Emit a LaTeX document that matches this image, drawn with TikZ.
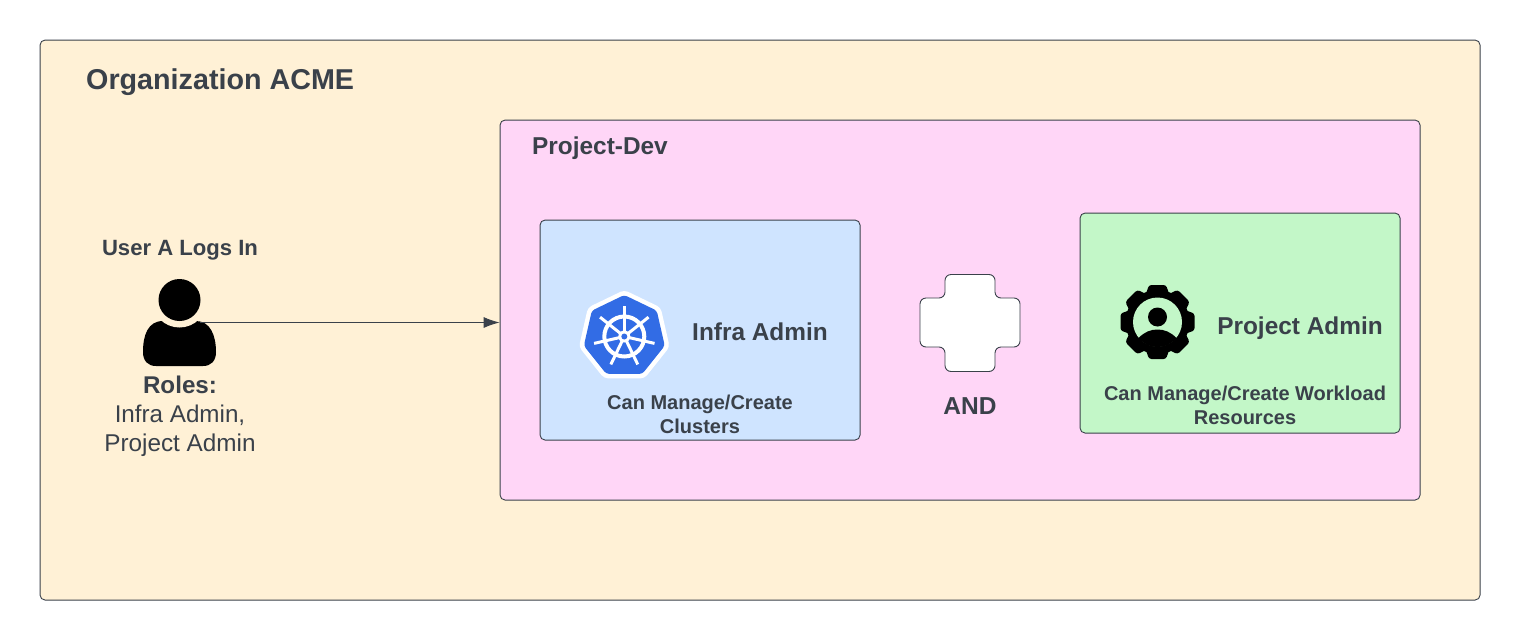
\documentclass[tikz,border=0pt]{standalone}
\usepackage{fontspec}
\setmainfont{Liberation Sans}
\definecolor{ink}{HTML}{3A414A}
\definecolor{orgfill}{HTML}{FFF1D6}
\definecolor{projfill}{HTML}{FFD6F7}
\definecolor{infrafill}{HTML}{CFE4FF}
\definecolor{adminfill}{HTML}{C3F7C8}
\definecolor{kubeblue}{HTML}{326CE5}
\usetikzlibrary{arrows.meta}
\tikzset{
  panel/.style={draw=ink,line width=0.9pt,rounded corners=5pt,anchor=north west,inner sep=0pt},
  label/.style={text=ink,font=\bfseries,align=center,inner sep=0pt},
  plain/.style={text=ink,align=center,inner sep=0pt},
  conn/.style={draw=ink,line width=0.9pt,-{Latex[length=16pt,width=11pt]}},
}
\newcommand{\fs}[1]{\fontsize{#1}{#1}\selectfont}
\begin{document}
\begin{tikzpicture}[x=1pt,y=-1pt]
\useasboundingbox (0,0) rectangle (1520,640);
\fill[white] (0,0) rectangle (1520,640);
\node[panel,fill=orgfill,minimum width=1440pt,minimum height=560pt] (org) at (39.6,39.6) {};
\node[panel,fill=projfill,minimum width=920pt,minimum height=380pt] (proj) at (499.6,119.6) {};
\node[panel,fill=infrafill,minimum width=320pt,minimum height=220pt] (infra) at (539.6,219.6) {};
\node[panel,fill=adminfill,minimum width=320pt,minimum height=220pt] (admin) at (1079.6,212.6) {};

\node[label,anchor=west,font=\bfseries\fs{28.7}] (orgt) at (86,82.5) {Organization ACME};
\node[label,anchor=west,font=\bfseries\fs{24.4}] (projt) at (532,148.5) {Project-Dev};
\node[label,font=\bfseries\fs{22.1}] (usert) at (180,250.5) {User A Logs In};
\node[label,font=\bfseries\fs{24.2}] (rolet) at (180,385) {Roles:};
\node[plain,font=\fs{24.2}] (role1) at (180,415) {Infra Admin,};
\node[plain,font=\fs{24.3}] (role2) at (180,445.5) {Project Admin};
\node[label,font=\bfseries\fs{24.4}] (it) at (760,331.5) {Infra Admin};
\node[label,font=\bfseries\fs{20}] (id1) at (700,404) {Can Manage/Create};
\node[label,font=\bfseries\fs{20}] (id2) at (700,426) {Clusters};
\node[label,font=\bfseries\fs{24.4}] (at) at (1300,328) {Project Admin};
\node[label,font=\bfseries\fs{20}] (ad1) at (1245,395) {Can Manage/Create Workload};
\node[label,font=\bfseries\fs{20}] (ad2) at (1245,417.5) {Resources};
\node[label,font=\bfseries\fs{24.5}] (andt) at (970,406) {AND};

% plus shape
\draw[draw=ink,fill=white,line width=0.9pt,rounded corners=6pt]
  (945,274.5) -- (995,274.5) -- (995,298) -- (1020,298) -- (1020,347) -- (995,347)
  -- (995,371.5) -- (945,371.5) -- (945,347) -- (920,347) -- (920,298) -- (945,298) -- cycle;

% user icon
\fill[black] (143,352) .. controls (143,335) and (148,321) .. (163,321)
  -- (196,321) .. controls (210,321) and (216,335) .. (216,352)
  .. controls (216,361) and (211,366) .. (203,366)
  -- (156,366) .. controls (148,366) and (143,361) .. (143,352) -- cycle;
\fill[orgfill] (179.5,300) circle[radius=27.5];
\fill[black] (179.5,300) circle[radius=21];
\coordinate (usr) at (200,322.5);
\draw[conn] (usr) -- (proj.west |- usr);

% kubernetes icon
\begin{scope}[shift={(624.3,336.5)}]
  \fill[white,rounded corners=4pt] (-90:46.5)--(-38.57:46.5)--(12.86:46.5)--(64.29:46.5)--(115.71:46.5)--(167.14:46.5)--(218.57:46.5)--cycle;
  \fill[kubeblue,rounded corners=3pt] (-90:41.5)--(-38.57:41.5)--(12.86:41.5)--(64.29:41.5)--(115.71:41.5)--(167.14:41.5)--(218.57:41.5)--cycle;
  \draw[white,line width=4pt] (0,0) circle[radius=20];
  \foreach \a in {-90,-38.57,12.86,64.29,115.71,167.14,218.57}{
    \draw[white,line width=3pt] (\a:3) -- (\a:31);
  }
  \fill[white] (0,0) circle[radius=6];
  \fill[kubeblue] (0,0) circle[radius=3];
\end{scope}

% gear icon
\begin{scope}[shift={(1157.5,322)}]
  \foreach \a in {0,45,...,315}{
    \begin{scope}[rotate=\a]
      \fill[black,rounded corners=2.5pt] (-12,-27) -- (-8.5,-37) -- (8.5,-37) -- (12,-27) -- (12,0) -- (-12,0) -- cycle;
    \end{scope}
  }
  \fill[black] (0,0) circle[radius=32];
  \fill[adminfill] (0,0) circle[radius=24.5];
  \fill[black] (0,-5) circle[radius=9.5];
  \begin{scope}
    \clip (0,0) circle[radius=25];
    \fill[black] (-19,16) .. controls (-13,10) and (-7,7.5) .. (0,7.5)
      .. controls (7,7.5) and (13,10) .. (19,16) -- (19,30) -- (-19,30) -- cycle;
  \end{scope}
\end{scope}
\end{tikzpicture}
\end{document}
